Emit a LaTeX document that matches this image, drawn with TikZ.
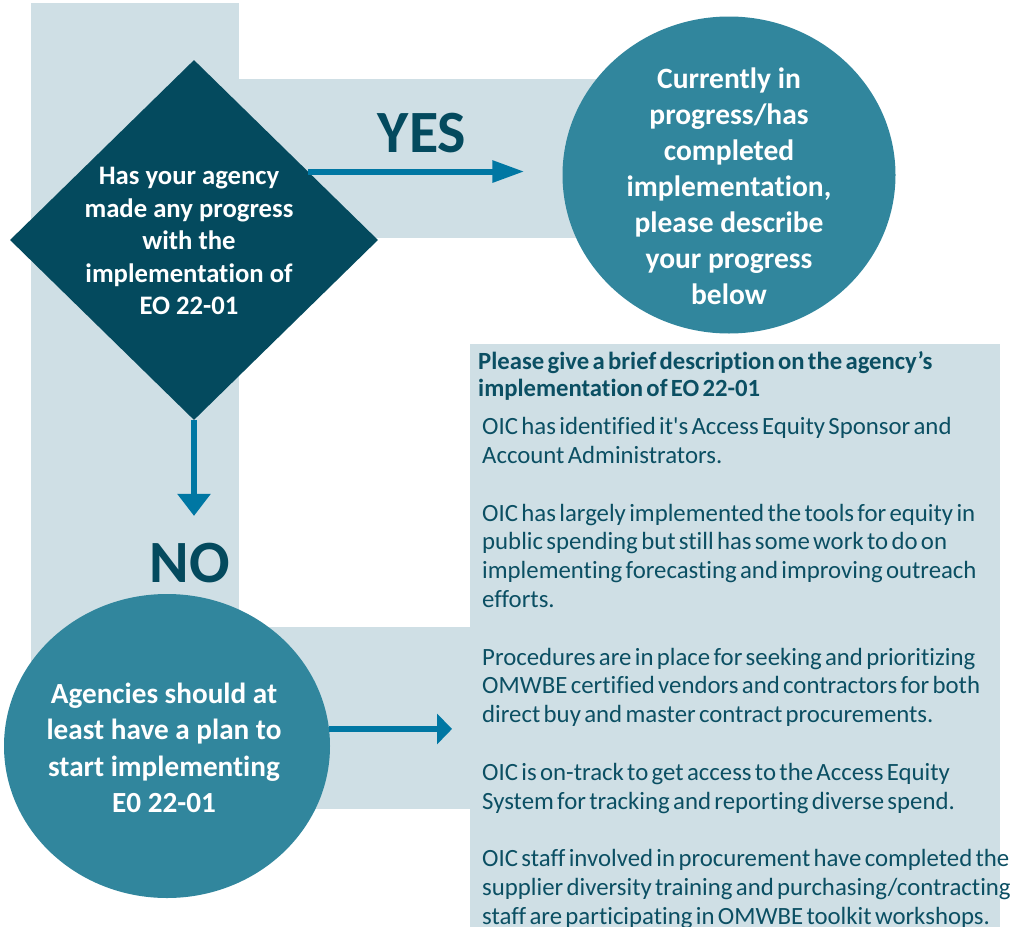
\documentclass[tikz,border=0pt]{standalone}
\usepackage{fontspec}
\setmainfont{Carlito}[RawFeature={-liga}]
\usetikzlibrary{positioning,shapes.geometric,arrows.meta,calc}

\definecolor{bandblue}{HTML}{CFDFE5}
\definecolor{deepteal}{HTML}{044A5E}
\definecolor{midteal}{HTML}{31869D}
\definecolor{arrowblue}{HTML}{0077A3}
\definecolor{inktext}{HTML}{0B4F63}

\tikzset{
  question/.style={diamond, fill=deepteal, inner sep=0pt,
    minimum width=368pt, minimum height=360pt},
  answer/.style={ellipse, fill=midteal, inner sep=0pt},
  boldtext/.style={text=white, inner sep=0pt, align=flush center},
  verdict/.style={text=deepteal, inner sep=0pt, font=\bfseries\fontsize{60}{72}\selectfont},
  flow/.style={draw=arrowblue, line width=6pt},
  descbox/.style={fill=bandblue, text=inktext, anchor=north west, inner xsep=8pt,
    inner ysep=0pt, text width=514pt, align=left, minimum height=592pt}
}

\begin{document}
\begin{tikzpicture}[x=1pt,y=-1pt]
  \useasboundingbox (0,0) rectangle (1014,926);

  \fill[bandblue] (31,3) rectangle (239,809);
  \fill[bandblue] (239,79) rectangle (640,238);
  \fill[bandblue] (239,627) rectangle (470,809);

  \node[question] (q) at (194,240) {};
  \node[boldtext, font=\bfseries\fontsize{26.7}{32.5}\selectfont] (qtext) at (189,241)
    {Has your agency\\ made any progress\\ with the\\ implementation of\\ EO 22-01};

  \node[answer, minimum width=333pt, minimum height=317pt] (done) at (729,175) {};
  \node[boldtext, font=\bfseries\fontsize{29.5}{36}\selectfont] (donetext) at (729,186)
    {Currently in\\ progress/has\\ completed\\ implementation,\\ please describe\\ your progress\\ below};

  \node[answer, minimum width=326pt, minimum height=304pt] (plan) at (167,746) {};
  \node[boldtext, font=\bfseries\fontsize{29.2}{36.5}\selectfont] (plantext) at (164,748)
    {Agencies should at\\ least have a plan to\\ start implementing\\ E0 22-01};

  \node[verdict] (yes) at (422,133) {YES};
  \node[verdict] (no) at (190,563) {NO};

  \node[descbox] (desc) at (470,344) {%
    {\bfseries\fontsize{24.7}{27}\selectfont Please give a brief description on the agency’s\\ implementation of EO 22-01\par}
    \vspace{9pt}
    {\leftskip=4pt\fontsize{24.8}{28.8}\selectfont
    OIC has identified it\textquotesingle s Access Equity Sponsor and\\ Account Administrators.\\[28.8pt]
    OIC has largely implemented the tools for equity in\\ public spending but still has some work to do on\\ implementing forecasting and improving outreach\\ efforts.\\[28.8pt]
    Procedures are in place for seeking and prioritizing\\ OMWBE certified vendors and contractors for both\\ direct buy and master contract procurements.\\[28.8pt]
    OIC is on-track to get access to the Access Equity\\ System for tracking and reporting diverse spend.\\[28.8pt]
    \mbox{OIC staff involved in procurement have completed the}\\ \mbox{supplier diversity training and purchasing/contracting}\\ \mbox{staff are participating in OMWBE toolkit workshops.}\par}};

  \coordinate (yesfrom) at ($(q.north)!0.62!(q.east)$);
  \draw[flow, -{Triangle[length=32pt,width=21pt]}, shorten >=38pt] (yesfrom) -- (yesfrom -| done.west);
  \draw[flow, -{Triangle[length=22pt,width=32pt]}, shorten >=27pt] (q.south) -- (q.south |- no.north);
  \draw[flow, -{Triangle[length=15pt,width=30pt]}, shorten >=18pt] (plan.6) -- (plan.6 -| desc.west);
\end{tikzpicture}
\end{document}
